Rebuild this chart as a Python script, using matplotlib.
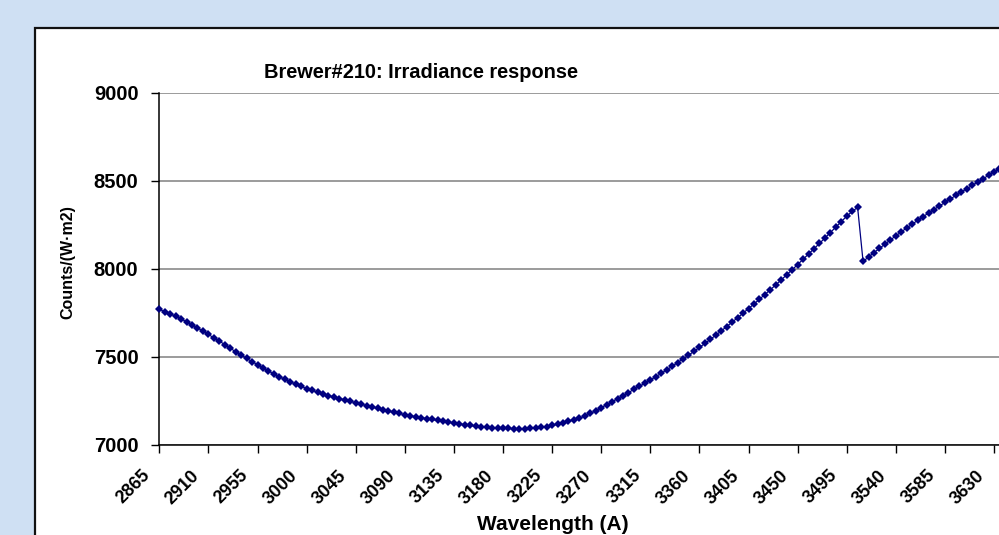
import numpy as np
import matplotlib.pyplot as plt
from matplotlib.patches import Rectangle

plt.rcParams['font.family'] = ['Liberation Sans', 'DejaVu Sans']
plt.rcParams['font.weight'] = 'bold'

### Data
wavelength = np.arange(2865, 3640, 5)
counts = [
    7770, 7758, 7745, 7731, 7716, 7700, 7683, 7665, 7647, 7628,   # 2865-2910
    7609, 7590, 7571, 7550, 7530, 7511, 7492, 7474, 7456, 7439,   # 2915-2960
    7420, 7404, 7388, 7373, 7359, 7346, 7333, 7321, 7310, 7300,   # 2965-3010
    7290, 7281, 7272, 7264, 7256, 7248, 7240, 7232, 7224, 7216,   # 3015-3060
    7208, 7200, 7193, 7186, 7179, 7172, 7166, 7160, 7155, 7150,   # 3065-3110
    7145, 7140, 7135, 7130, 7125, 7120, 7115, 7111, 7107, 7104,   # 3115-3160
    7101, 7099, 7097, 7095, 7094, 7093, 7093, 7093, 7094, 7096,   # 3165-3210
    7100, 7105, 7111, 7118, 7126, 7135, 7144, 7153, 7163, 7179,   # 3215-3260
    7195, 7212, 7229, 7246, 7263, 7280, 7298, 7316, 7334, 7350,   # 3265-3310
    7369, 7388, 7407, 7427, 7447, 7468, 7489, 7510, 7532, 7554,   # 3315-3360
    7577, 7600, 7624, 7648, 7673, 7698, 7723, 7749, 7775, 7801,   # 3365-3410
    7828, 7855, 7882, 7910, 7938, 7967, 7996, 8025, 8055, 8085,   # 3415-3460
    8115, 8145, 8176, 8207, 8238, 8269, 8300, 8327, 8350, 8043,   # 3465-3510
    8068, 8093, 8117, 8141, 8165, 8188, 8211, 8233, 8255, 8276,   # 3515-3560
    8297, 8318, 8338, 8358, 8378, 8398, 8418, 8437, 8456, 8475,   # 3565-3610
    8494, 8513, 8532, 8551, 8570,                                 # 3615-3635
]
x_ticks = np.arange(2865, 3675, 45)
y_ticks = [7000, 7500, 8000, 8500, 9000]

title = 'Brewer#210: Irradiance response'
x_title = 'Wavelength (A)'
y_title = 'Counts/(W·m2)'

### Figure
W, H = 999, 535
fig = plt.figure(figsize=(W / 100, H / 100), dpi=100)
fig.patch.set_facecolor('#cfe0f3')

# white chart area with dark frame, running off the right and bottom
fig.add_artist(Rectangle((35 / W, -0.2), 1.2, (H - 28) / H + 0.2,
                         transform=fig.transFigure, facecolor='white',
                         edgecolor='#111111', lw=1.6, zorder=0))

px_per_A = 49.1 / 45
x_right = 3700
ax = fig.add_axes([159.3 / W, 90 / H, (x_right - 2865) * px_per_A / W, 352 / H])
ax.set_facecolor('none')

ax.plot(wavelength, counts, color='#000080', lw=0.9, marker='D',
        markersize=4, markeredgewidth=0, zorder=3, clip_on=False)

ax.set_xlim(2865, x_right)
ax.set_ylim(7000, 9000)
ax.set_yticks(y_ticks)
ax.set_yticklabels([str(v) for v in y_ticks], fontsize=14.5, fontweight='bold')
ax.set_xticks(x_ticks)
ax.set_xticklabels([])
# rotated category labels, set down and to the left of each tick
for v in x_ticks:
    ax.annotate(str(v), xy=(v, 0), xycoords=('data', 'axes fraction'),
                xytext=(-12, -28), textcoords='offset pixels',
                fontsize=13, fontweight='bold', rotation=45,
                ha='right', va='center', rotation_mode='anchor')
ax.tick_params(axis='y', length=6, width=1, pad=9, colors='black')
ax.tick_params(axis='x', length=6, width=1, colors='black')

ax.grid(axis='y', color='#808080', lw=1.1)
ax.set_axisbelow(True)
for s in ['top', 'right']:
    ax.spines[s].set_visible(False)
for s in ['left', 'bottom']:
    ax.spines[s].set_color('black')
    ax.spines[s].set_linewidth(1.1)

fig.text(421 / W, 1 - 72 / H, title, fontsize=14.4, fontweight='bold',
         ha='center', va='center')
fig.text(68 / W, 1 - 262 / H, y_title, fontsize=11.5, fontweight='bold',
         ha='center', va='center', rotation=90)
fig.text(553 / W, 1 - 534 / H, x_title, fontsize=15, fontweight='bold',
         ha='center', va='bottom')

plt.savefig('out.png', dpi=100, facecolor=fig.get_facecolor())
